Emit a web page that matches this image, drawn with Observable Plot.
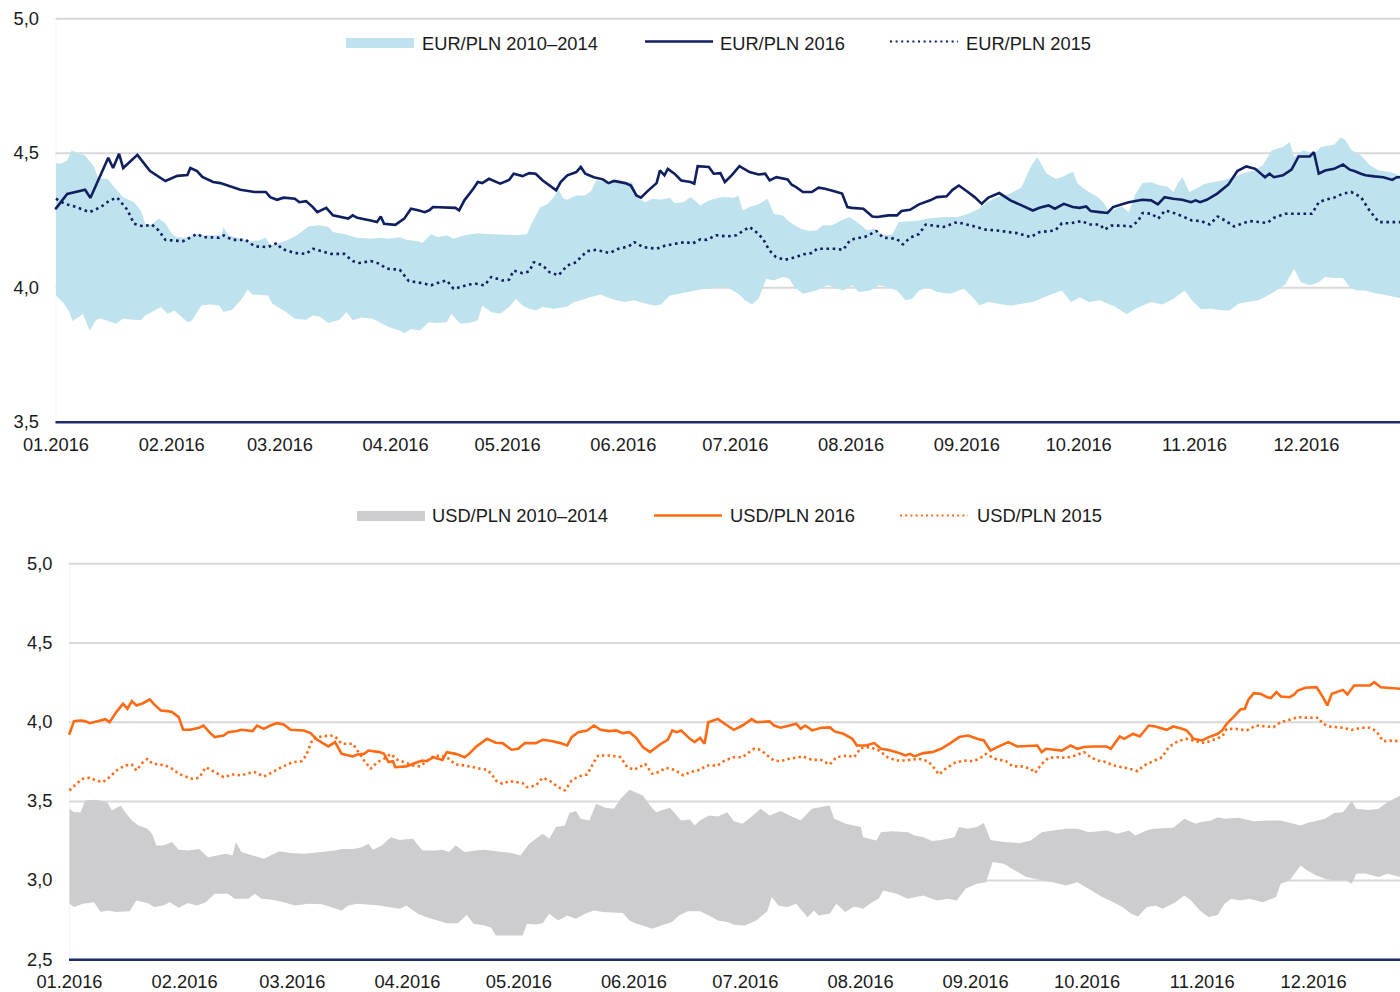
<!DOCTYPE html>
<html>
<head>
<meta charset="utf-8">
<script src="https://cdn.jsdelivr.net/npm/d3@7"></script>
<script src="https://cdn.jsdelivr.net/npm/@observablehq/plot@0.6"></script>
<style>
  html, body { margin: 0; padding: 0; background: #fff; }
  body { width: 1400px; height: 992px; overflow: hidden; position: relative;
         font-family: "Liberation Sans", Arial, sans-serif; color: #1a1a1a; }
  #top { position: absolute; left: 0; top: 0; }
  #bottom { position: absolute; left: 0; top: 530px; }
  .lg { position: absolute; font-size: 18.3px; line-height: 20px; white-space: nowrap; }
  .sw { position: absolute; }
</style>
</head>
<body>
<div id="top"></div>
<div id="bottom"></div>
<div id="legends"></div>
<script>
// ---------- DATA (day offset from 2016-01-01, value) ----------
const monthTicks = ["2016-01-01","2016-02-01","2016-03-01","2016-04-01","2016-05-01","2016-06-01",
                    "2016-07-01","2016-08-01","2016-09-01","2016-10-01","2016-11-01","2016-12-01"];
const eurTicks = [3.5, 4.0, 4.5, 5.0];
const usdTicks = [2.5, 3.0, 3.5, 4.0, 4.5, 5.0];

const eurLegend = ["EUR/PLN 2010–2014", "EUR/PLN 2016", "EUR/PLN 2015"];
const usdLegend = ["USD/PLN 2010–2014", "USD/PLN 2016", "USD/PLN 2015"];

const eur16 = [[0,4.295],[3,4.349],[7.8,4.364],[9.2,4.334],[14,4.483],[15.3,4.445],[16.9,4.498],[18,4.445],[21.8,4.494],[25.2,4.434],[29.3,4.397],[32.5,4.416],[35.2,4.419],[36,4.445],[37.8,4.434],[39.2,4.412],[42.1,4.393],[44,4.389],[49.4,4.364],[53.2,4.356],[56.2,4.356],[57.4,4.337],[59.2,4.327],[61,4.335],[64,4.331],[65.2,4.318],[67,4.322],[68.8,4.30],[70,4.281],[72.4,4.297],[74.2,4.269],[78.3,4.257],[79.5,4.269],[80.7,4.26],[84.3,4.25],[86,4.244],[87,4.265],[87.9,4.238],[90.9,4.234],[93.3,4.257],[95.1,4.294],[97,4.288],[98.8,4.281],[100,4.288],[101,4.30],[107,4.297],[108,4.288],[109.4,4.325],[111.8,4.368],[113,4.393],[114.2,4.389],[116,4.405],[119,4.387],[121.4,4.401],[122.6,4.424],[125,4.415],[126.8,4.426],[128.5,4.424],[130.4,4.399],[134,4.362],[135.2,4.393],[137,4.418],[139.4,4.43],[140.6,4.449],[141.8,4.424],[144.1,4.411],[146.5,4.403],[148,4.389],[149.5,4.397],[152.5,4.389],[154,4.38],[155.5,4.343],[156.7,4.335],[158.7,4.362],[160.9,4.389],[161.8,4.436],[163,4.418],[163.9,4.442],[165.7,4.424],[167.5,4.399],[170,4.393],[171,4.387],[171.9,4.452],[174.9,4.449],[176.2,4.424],[178,4.426],[179.2,4.393],[181,4.418],[183.1,4.452],[185.8,4.43],[188.2,4.421],[190,4.424],[191.2,4.399],[193,4.411],[196,4.403],[197.1,4.383],[198.3,4.374],[200.1,4.356],[202.5,4.356],[204.3,4.372],[206,4.368],[208.5,4.359],[210.6,4.35],[212,4.30],[213.2,4.297],[216.3,4.294],[218.7,4.265],[220,4.263],[223,4.269],[225.3,4.269],[226.5,4.285],[228.8,4.29],[231.2,4.31],[234.2,4.325],[236,4.337],[238.6,4.34],[240.2,4.364],[241.9,4.38],[244.3,4.356],[246.1,4.337],[248,4.312],[249.8,4.335],[252.7,4.352],[255.7,4.325],[258.7,4.306],[261.7,4.287],[263.5,4.297],[265.9,4.306],[267.6,4.294],[270,4.312],[272.4,4.30],[274.2,4.297],[276,4.302],[277.2,4.285],[279.6,4.281],[281.7,4.278],[283.2,4.30],[285.6,4.31],[287.4,4.318],[291,4.327],[293.4,4.325],[295.2,4.31],[297,4.337],[299.3,4.331],[301.7,4.327],[304.1,4.318],[305.3,4.325],[306.5,4.318],[308.3,4.327],[311.1,4.35],[314.1,4.384],[316.5,4.434],[318.9,4.451],[321.3,4.442],[323.9,4.411],[325.1,4.424],[326.3,4.411],[328.7,4.418],[331,4.439],[332.9,4.488],[335.9,4.488],[337,4.504],[338.3,4.424],[340,4.436],[342.4,4.442],[344.8,4.458],[346.6,4.439],[347.8,4.434],[349.6,4.424],[350.8,4.418],[353.2,4.414],[355.6,4.411],[358,4.401],[359.2,4.411],[360.1,4.411]];

const eur15 = [[0,4.331],[2.4,4.312],[5.4,4.30],[9,4.281],[12,4.30],[14.4,4.325],[16.4,4.335],[19.1,4.29],[20.9,4.238],[23.3,4.228],[25.7,4.235],[27.5,4.213],[29.3,4.178],[34.1,4.173],[35.3,4.182],[37.7,4.20],[39.5,4.188],[43.7,4.186],[44.9,4.195],[47.2,4.178],[50.8,4.178],[53.2,4.154],[56.8,4.151],[59.2,4.166],[60.4,4.145],[64,4.129],[67,4.126],[68.8,4.145],[71.2,4.136],[73.6,4.126],[77.2,4.126],[79.5,4.099],[81.3,4.092],[84.3,4.099],[86.7,4.089],[88.5,4.071],[92.1,4.067],[94.5,4.025],[98.1,4.017],[100.5,4.009],[102.9,4.021],[104.7,4.027],[106.5,3.996],[108.3,4.002],[110.6,4.012],[112.4,4.015],[114.8,4.009],[116.6,4.04],[119.6,4.027],[121.4,4.03],[122.6,4.064],[125,4.054],[126.8,4.061],[128,4.095],[130.4,4.083],[132.2,4.058],[134.6,4.046],[137,4.083],[139.4,4.095],[140.6,4.114],[142.3,4.136],[144.7,4.141],[148.3,4.129],[150.7,4.145],[153.5,4.154],[154.9,4.17],[157.3,4.151],[160.9,4.145],[163.3,4.157],[166.9,4.166],[168.7,4.17],[170.5,4.164],[172.6,4.18],[174.4,4.178],[176.8,4.195],[179.8,4.191],[182.2,4.195],[185.8,4.226],[187.6,4.207],[189.4,4.182],[191.1,4.139],[192.9,4.114],[195.3,4.104],[198.3,4.114],[200.1,4.124],[202.5,4.129],[203.9,4.145],[208.5,4.145],[210.9,4.141],[212.7,4.176],[213.9,4.182],[216.9,4.19],[219.8,4.211],[221.6,4.186],[225.2,4.182],[226.9,4.161],[228.8,4.186],[231.2,4.20],[233,4.235],[237.8,4.226],[241.4,4.244],[246.1,4.228],[249.1,4.216],[252.1,4.213],[255.1,4.207],[257.5,4.203],[261.1,4.188],[263.5,4.207],[267.7,4.213],[269.5,4.24],[271.9,4.24],[274.9,4.248],[276.7,4.235],[279.7,4.235],[280.9,4.216],[282.7,4.231],[285.1,4.231],[288.1,4.228],[289.9,4.248],[291.1,4.278],[293.5,4.275],[295.3,4.257],[297.1,4.287],[298.9,4.281],[301.9,4.265],[304.3,4.25],[306.7,4.248],[309.1,4.235],[311.2,4.265],[313.2,4.25],[315.6,4.228],[319.7,4.248],[324.5,4.241],[326.3,4.26],[329.3,4.275],[334.7,4.275],[336.5,4.275],[338.3,4.318],[340,4.327],[342.4,4.335],[344.8,4.35],[347,4.356],[349.6,4.337],[352,4.285],[354.4,4.244],[360.1,4.244]];

const eurHi = [[0,4.463],[1.2,4.461],[3,4.473],[4.2,4.51],[6,4.50],[7.8,4.492],[9.6,4.461],[10.2,4.449],[11.4,4.405],[13.8,4.405],[15.6,4.374],[17.9,4.337],[20.9,4.318],[22.7,4.287],[23.9,4.238],[25.7,4.235],[27.5,4.257],[29.3,4.24],[31.1,4.20],[32.3,4.188],[35.3,4.186],[37.7,4.20],[40.1,4.195],[44.3,4.195],[44.9,4.226],[46.1,4.195],[48.4,4.186],[52,4.173],[54.4,4.176],[56.2,4.186],[57.4,4.157],[59.8,4.166],[62.2,4.178],[64.6,4.195],[67.6,4.228],[70.6,4.232],[73,4.226],[74.2,4.207],[77.2,4.20],[80.7,4.186],[84.3,4.182],[86.7,4.186],[89.1,4.182],[92.1,4.188],[93.9,4.178],[96.9,4.173],[98.1,4.166],[99.3,4.182],[100.5,4.20],[102.3,4.188],[104.7,4.195],[106.5,4.182],[109.4,4.195],[113,4.203],[115.4,4.20],[119,4.198],[123.8,4.195],[126.2,4.20],[127.4,4.238],[129.8,4.30],[131.6,4.31],[133.4,4.337],[134.6,4.364],[136,4.331],[137,4.327],[139.4,4.343],[141.7,4.343],[143.5,4.362],[144.7,4.40],[147.7,4.393],[151.9,4.393],[154.3,4.393],[156.1,4.331],[157.9,4.318],[159.7,4.331],[162.1,4.327],[164.5,4.335],[165.7,4.315],[168.1,4.318],[169.9,4.337],[171.7,4.318],[172.6,4.306],[175,4.325],[178.6,4.337],[181.6,4.335],[182.8,4.343],[184,4.287],[185.8,4.30],[188.2,4.31],[190.6,4.331],[192.3,4.275],[194.7,4.269],[196.5,4.244],[199.5,4.219],[201.9,4.211],[203.7,4.213],[205.5,4.232],[207.9,4.232],[210.3,4.25],[212.6,4.263],[215,4.24],[217.4,4.213],[219.2,4.219],[221.6,4.195],[224,4.198],[225.8,4.244],[231.2,4.25],[233.6,4.257],[237.8,4.263],[241.4,4.263],[244.4,4.275],[247.3,4.294],[249.1,4.315],[252.2,4.337],[255.7,4.35],[258.7,4.374],[261.1,4.449],[262.9,4.486],[265.3,4.426],[267.7,4.405],[269.5,4.411],[271.3,4.426],[272.5,4.43],[273.7,4.387],[276.1,4.362],[279.1,4.337],[280.9,4.312],[282.1,4.281],[283.9,4.294],[285.6,4.302],[287.4,4.281],[289.2,4.349],[291.1,4.389],[293.4,4.392],[295.8,4.38],[297.6,4.377],[299.4,4.356],[300.6,4.389],[301.8,4.411],[303.6,4.356],[305.4,4.368],[307.8,4.387],[310.2,4.393],[312.6,4.399],[314.9,4.409],[317.9,4.424],[320.9,4.436],[323.3,4.455],[325.7,4.51],[328.7,4.523],[330.5,4.542],[331.7,4.486],[334.1,4.51],[337.1,4.498],[338.9,4.523],[342.5,4.533],[344.2,4.56],[345.4,4.548],[347.2,4.51],[349.6,4.492],[352,4.455],[354.4,4.436],[357.4,4.43],[360.1,4.418]];

const eurLo = [[0,3.971],[1.8,3.947],[3.6,3.91],[4.4,3.876],[6,3.89],[7.2,3.903],[9,3.841],[10.8,3.881],[12,3.885],[15,3.872],[16.1,3.866],[17.9,3.885],[20.9,3.881],[22.7,3.879],[23.9,3.897],[25.7,3.91],[28.1,3.928],[29.9,3.903],[31.7,3.915],[35.3,3.872],[36.5,3.879],[38.9,3.934],[41.3,3.938],[43.7,3.934],[44.9,3.91],[47.2,3.918],[49.6,3.955],[51.4,3.993],[52.6,3.975],[56.8,3.971],[58,3.94],[61.6,3.91],[64,3.885],[67,3.881],[68.8,3.897],[70.6,3.893],[73,3.869],[76,3.881],[77.8,3.91],[79.5,3.879],[81.9,3.889],[84.9,3.885],[86.7,3.872],[89.1,3.854],[92.1,3.841],[93.3,3.831],[95.1,3.847],[97.5,3.841],[99.9,3.872],[101.7,3.869],[104.7,3.872],[105.9,3.903],[108.3,3.866],[110.6,3.869],[113,3.879],[114.2,3.934],[116.6,3.91],[119,3.903],[121.4,3.928],[123.2,3.959],[125,3.934],[126.8,3.922],[128.6,3.916],[130.4,3.928],[133.4,3.922],[137,3.93],[138.8,3.947],[140.6,3.953],[143,3.965],[145.9,3.975],[147.7,3.965],[150.1,3.953],[152.5,3.947],[154.9,3.953],[157.3,3.943],[160.3,3.934],[162.1,3.938],[164.5,3.971],[166.9,3.978],[169.3,3.984],[172.6,3.993],[175,3.996],[177.4,4.002],[179.8,4.002],[182.8,3.978],[184.6,3.953],[186.4,3.938],[188.2,3.959],[190.3,4.033],[192.3,4.027],[194.7,4.04],[196.5,4.033],[197.7,4.005],[200.1,3.978],[203.7,3.99],[206.7,4.009],[208.5,4.002],[210.9,3.99],[213.3,4.009],[215.1,3.984],[218.1,3.99],[220.5,4.009],[222.9,4.002],[225.3,3.99],[227.6,3.953],[229.4,3.959],[231.2,3.99],[233.6,4.002],[236,3.984],[239.6,3.978],[243.2,3.996],[245.6,3.965],[247.4,3.934],[249.8,3.947],[252.2,3.94],[255.7,3.934],[258.7,3.94],[261.7,3.947],[264.7,3.965],[267.1,3.978],[269.5,3.99],[271.9,3.947],[274.3,3.965],[276.7,3.947],[279.7,3.953],[283.9,3.928],[286.8,3.901],[289.2,3.922],[291.1,3.934],[293.4,3.947],[296.4,3.938],[299.4,3.959],[302.4,3.99],[304.3,3.953],[306.7,3.92],[309.6,3.922],[312,3.916],[314.4,3.915],[316.8,3.94],[319.2,3.947],[322.2,3.953],[324.5,3.97],[326.9,3.99],[329.3,4.012],[331.7,4.071],[333.5,4.02],[335.9,4.009],[338.3,4.02],[340,4.04],[342.4,4.036],[344.8,4.036],[346.6,4.002],[348.4,3.99],[350.8,3.99],[353.2,3.98],[356.8,3.971],[360.1,3.962]];

const usd16 = [[0,3.927],[1.2,4.007],[3,4.011],[4.2,4.007],[5.4,3.994],[7.8,4.007],[9.6,4.019],[10.8,4.0],[12.6,4.064],[14.4,4.116],[15.6,4.085],[16.8,4.133],[18,4.106],[19.8,4.12],[21.6,4.144],[22.8,4.112],[24.6,4.074],[26.4,4.07],[27.6,4.064],[29.4,4.032],[30.6,3.952],[32.5,3.952],[34.9,3.965],[36.1,3.979],[37.9,3.931],[39.1,3.906],[41.5,3.916],[42.7,3.937],[45.1,3.944],[46.3,3.952],[49.3,3.944],[50.5,3.979],[52.3,3.958],[54.1,3.979],[55.9,3.994],[57.7,3.986],[59.5,3.952],[63.1,3.948],[64.9,3.931],[66.7,3.889],[69.7,3.847],[71.5,3.874],[73.3,3.80],[76.3,3.784],[77.5,3.796],[79.3,3.80],[80.5,3.821],[83.5,3.811],[84.7,3.80],[85.9,3.748],[87.1,3.754],[87.7,3.716],[90.7,3.721],[93.1,3.742],[95,3.758],[96.2,3.754],[98,3.779],[100.4,3.762],[101.6,3.811],[104,3.80],[106.4,3.779],[107.6,3.80],[109.4,3.843],[112.4,3.895],[114.8,3.87],[116.6,3.868],[119,3.826],[120.8,3.832],[122.6,3.868],[125.6,3.868],[127.4,3.889],[129.8,3.881],[132.2,3.868],[134,3.853],[135.2,3.906],[137,3.937],[139.4,3.948],[141.2,3.979],[143,3.952],[145.4,3.944],[147.2,3.948],[149,3.931],[150.8,3.937],[152.6,3.901],[154.4,3.843],[156.3,3.811],[157.5,3.832],[159.3,3.864],[161.1,3.889],[162.3,3.948],[163.5,3.937],[164.7,3.948],[167.1,3.895],[168.3,3.874],[169.8,3.901],[171,3.864],[172,4.0],[174.6,4.021],[176.4,3.99],[178.9,3.952],[181.2,3.979],[183.7,4.019],[184.9,4.0],[188.5,4.005],[189.7,3.979],[191.5,3.965],[193.9,3.979],[195.7,3.99],[196.9,3.958],[198.1,3.979],[200,3.948],[202.4,3.965],[204.8,3.967],[206,3.942],[208.4,3.927],[210.8,3.895],[212,3.853],[214.4,3.853],[216.7,3.868],[218.5,3.832],[220.3,3.826],[222.7,3.811],[225.1,3.79],[226.3,3.80],[227.5,3.784],[229.9,3.805],[232.3,3.811],[234.7,3.832],[237.2,3.868],[239.6,3.906],[242,3.916],[244.4,3.895],[246.2,3.885],[248,3.821],[249.8,3.843],[252.8,3.874],[255.2,3.847],[260.6,3.853],[261.8,3.811],[263,3.832],[267.2,3.821],[269.6,3.853],[271.4,3.832],[273.2,3.843],[275.6,3.847],[279.2,3.847],[280.4,3.832],[282.8,3.91],[284,3.895],[286.4,3.927],[288.2,3.91],[290.6,3.979],[292.4,3.973],[295.4,3.952],[297.2,3.973],[299.6,3.958],[300.8,3.948],[302,3.916],[302.6,3.895],[305,3.885],[306.8,3.906],[309.2,3.927],[310.4,3.948],[311.6,3.99],[313.4,4.032],[315.3,4.08],[316.5,4.085],[317.4,4.141],[318.9,4.183],[320.7,4.179],[322.5,4.158],[323.5,4.153],[325,4.19],[326.2,4.162],[328.6,4.158],[329.8,4.175],[330.7,4.20],[332.8,4.217],[335.8,4.221],[337.5,4.158],[338.7,4.106],[339.9,4.179],[342.9,4.204],[344.1,4.175],[345.9,4.232],[350.1,4.232],[351.3,4.253],[353.1,4.221],[358.3,4.211]];

const usd15 = [[0,3.569],[1.8,3.611],[3.6,3.643],[5.4,3.649],[7.2,3.632],[9,3.622],[10.8,3.653],[12.6,3.695],[15,3.727],[16.8,3.733],[18,3.695],[19.8,3.748],[21,3.769],[22.2,3.741],[24,3.733],[25.8,3.727],[27.6,3.706],[29.4,3.674],[31.3,3.657],[33.1,3.643],[34.9,3.649],[36.7,3.716],[39.1,3.685],[41.5,3.653],[43.9,3.67],[46.3,3.664],[48.1,3.678],[49.9,3.685],[52.3,3.657],[54.7,3.685],[57.1,3.716],[60.1,3.748],[62.5,3.754],[63.7,3.79],[65.5,3.895],[67.9,3.91],[70.3,3.916],[71.5,3.91],[73.3,3.864],[76.3,3.864],[77.5,3.822],[79.3,3.758],[81.1,3.706],[82.9,3.748],[84.7,3.769],[86.5,3.80],[88.3,3.762],[90.1,3.748],[92.5,3.727],[94.4,3.721],[96.2,3.754],[98,3.784],[99.8,3.79],[101.6,3.779],[104,3.733],[106.4,3.727],[108.8,3.716],[110.6,3.706],[112.4,3.70],[113.6,3.674],[114.8,3.632],[116.6,3.611],[118.4,3.628],[120.2,3.622],[122,3.615],[123.2,3.59],[125.6,3.60],[127.4,3.649],[129.2,3.632],[131.6,3.59],[133.4,3.569],[135.2,3.632],[137,3.657],[139.4,3.67],[141.2,3.748],[142.4,3.79],[145.4,3.79],[148.4,3.779],[150.2,3.716],[152,3.70],[153.8,3.721],[155,3.737],[156.9,3.674],[158.7,3.685],[160.5,3.712],[162.9,3.70],[165.3,3.664],[167.1,3.685],[169.8,3.70],[171.6,3.727],[174.6,3.727],[176.4,3.758],[178.8,3.779],[181.2,3.779],[182.4,3.80],[184.3,3.832],[186.1,3.826],[187.9,3.79],[189.7,3.758],[191.5,3.754],[193.9,3.769],[197.5,3.784],[199.9,3.762],[202.3,3.762],[204.7,3.733],[206.5,3.779],[209.5,3.79],[211.3,3.779],[213.1,3.838],[215.5,3.843],[217.9,3.822],[220.3,3.779],[222.7,3.758],[225.1,3.758],[228.7,3.769],[231.1,3.754],[232.3,3.727],[234.1,3.67],[235.9,3.706],[238.3,3.743],[240.7,3.758],[243.2,3.754],[245,3.769],[246.8,3.80],[249.2,3.769],[252.2,3.754],[254,3.721],[256.4,3.721],[258.8,3.706],[260,3.68],[261.8,3.737],[263.6,3.775],[266,3.779],[268.4,3.775],[270.8,3.79],[273.2,3.811],[275,3.779],[276.8,3.758],[279.2,3.748],[281,3.727],[283.4,3.716],[286.4,3.70],[287.6,3.691],[289.4,3.727],[291.8,3.754],[294.2,3.779],[296,3.843],[298.4,3.88],[300.8,3.895],[303.2,3.88],[305.6,3.868],[308,3.889],[310.4,3.91],[311.6,3.958],[314,3.958],[317,3.948],[319.4,3.979],[322.4,3.973],[324.2,3.969],[326.1,4.0],[328.5,4.015],[330.9,4.032],[333.3,4.028],[336.3,4.028],[337.5,3.99],[339.3,3.973],[342.9,3.965],[345.3,3.952],[347.7,3.965],[350.1,3.965],[351.9,3.944],[353.7,3.88],[355.5,3.884],[358.3,3.88]];

const usdHi = [[0,3.453],[1.2,3.432],[3,3.432],[4.2,3.506],[7.2,3.51],[10.2,3.495],[11.4,3.443],[13.8,3.474],[15,3.432],[16.8,3.38],[18.6,3.348],[21,3.327],[22.2,3.295],[23.4,3.222],[25.2,3.222],[27.6,3.243],[29.4,3.194],[31.9,3.19],[34.9,3.20],[37.3,3.148],[39.7,3.159],[42.1,3.169],[43.9,3.159],[44.8,3.243],[46.3,3.18],[49.3,3.159],[52.3,3.138],[54.1,3.159],[56.5,3.186],[59.5,3.174],[63.1,3.169],[67.9,3.18],[71.5,3.19],[73.3,3.20],[76.3,3.20],[78.7,3.211],[80.5,3.232],[81.7,3.194],[84.1,3.222],[86.5,3.274],[88.9,3.257],[92.5,3.264],[95,3.19],[98.6,3.19],[100.4,3.194],[102.2,3.18],[104,3.222],[106.4,3.18],[109.4,3.19],[111.8,3.194],[114.8,3.186],[119,3.174],[121.4,3.159],[123.8,3.232],[127.4,3.295],[129.2,3.264],[131,3.338],[133.4,3.348],[134.6,3.426],[136.4,3.439],[137.6,3.39],[140,3.38],[141.8,3.485],[144.2,3.46],[146.6,3.453],[148.4,3.516],[150.8,3.573],[154.4,3.537],[156.3,3.474],[158,3.432],[159.3,3.443],[161.7,3.46],[164.7,3.38],[167.1,3.385],[168.3,3.348],[169.8,3.38],[172.2,3.411],[174.6,3.404],[177.1,3.432],[178.9,3.375],[181.2,3.359],[183,3.39],[186.1,3.453],[188.5,3.411],[191.5,3.439],[193.9,3.411],[196.9,3.38],[199.9,3.453],[204.7,3.474],[205.9,3.39],[209,3.359],[213.1,3.338],[213.7,3.274],[217.3,3.253],[218.5,3.306],[221.5,3.312],[225.7,3.306],[227.5,3.285],[229.9,3.274],[232.3,3.25],[234.7,3.257],[238.3,3.274],[239.5,3.338],[241.9,3.327],[244.3,3.338],[246.2,3.363],[248,3.257],[251.6,3.243],[255.8,3.236],[258.8,3.253],[261.8,3.306],[264.8,3.316],[268.4,3.327],[271.4,3.327],[274.4,3.306],[279.2,3.316],[282.2,3.295],[285.2,3.316],[287,3.285],[290,3.316],[291.8,3.327],[297.2,3.333],[300.2,3.39],[303.2,3.359],[304.4,3.369],[307.4,3.38],[309.2,3.40],[311,3.39],[314.7,3.396],[318.9,3.375],[322.5,3.38],[326.1,3.38],[331.5,3.348],[333.3,3.363],[338.1,3.39],[340.5,3.426],[342.9,3.432],[345.3,3.502],[346.5,3.453],[350.1,3.446],[352.5,3.453],[354.9,3.495],[358.4,3.537]];

const usdLo = [[0,2.854],[1.2,2.833],[3.6,2.854],[6.6,2.864],[8.4,2.801],[10.2,2.812],[12.6,2.801],[16.2,2.806],[18,2.875],[21,2.858],[22.8,2.833],[25.2,2.843],[27,2.864],[29.4,2.829],[31.9,2.858],[34.3,2.843],[36.7,2.864],[39.1,2.917],[42.7,2.917],[44.5,2.885],[48.1,2.885],[49.9,2.917],[51.7,2.885],[54.7,2.879],[57.7,2.864],[60.7,2.843],[64.3,2.854],[67.9,2.85],[70.3,2.833],[73.3,2.812],[75.1,2.843],[77.5,2.854],[83.5,2.843],[85.9,2.833],[88.9,2.822],[90.7,2.843],[93.8,2.79],[96.2,2.769],[98.6,2.752],[101.6,2.731],[104.6,2.731],[107,2.785],[108.8,2.727],[111.8,2.717],[113.6,2.702],[114.8,2.654],[122,2.654],[123.2,2.727],[125.6,2.723],[127.4,2.731],[129.2,2.79],[131.6,2.748],[134,2.779],[136.4,2.759],[138.8,2.79],[141.2,2.812],[143.6,2.801],[149,2.796],[150.8,2.748],[152.6,2.727],[154.4,2.717],[156.9,2.696],[159.3,2.717],[162.3,2.738],[164.1,2.779],[166.5,2.807],[169.8,2.807],[172.2,2.779],[174.6,2.748],[177.1,2.738],[178.9,2.721],[181.9,2.717],[184.9,2.748],[187.9,2.807],[189.1,2.896],[190.9,2.843],[193.3,2.833],[195.7,2.854],[198.7,2.769],[200.5,2.812],[201.7,2.779],[204.7,2.79],[206.5,2.854],[208.9,2.801],[211.3,2.837],[213.7,2.822],[216.1,2.864],[217.9,2.885],[219.1,2.938],[222.7,2.917],[225.7,2.885],[229.9,2.906],[233.5,2.875],[236.5,2.885],[238.9,2.875],[241.3,2.948],[244.3,2.98],[246.8,2.99],[248.6,3.117],[251.6,3.106],[254.6,3.064],[257.6,3.022],[261.2,3.005],[264.8,2.99],[268.4,2.969],[271.4,2.99],[274.4,2.948],[278.1,2.896],[281.1,2.864],[283.5,2.833],[285.9,2.79],[287.7,2.774],[290.1,2.833],[292.5,2.843],[294.3,2.822],[296.1,2.843],[297.8,2.864],[300.2,2.906],[302,2.875],[304.4,2.812],[306.8,2.769],[309.2,2.785],[311,2.854],[312.8,2.885],[315.3,2.875],[317.7,2.885],[321.3,2.864],[324.9,2.896],[326.1,2.98],[328.5,3.001],[331.5,3.096],[333.3,3.064],[335.7,3.032],[338.1,3.011],[340.5,3.001],[343.5,3.006],[345.3,2.98],[346.5,3.043],[348.9,3.045],[352.5,3.022],[354.9,3.043],[358.4,3.022]];

// ---------- STYLE ----------
const C = {
  navy: "#0f1f5f", axis: "#1c2b6a", lightBlue: "#bee3ee", grey: "#cdcdd0",
  orange: "#ff6a13", grid: "#d9d9d9", text: "#1a1a1a"
};
const FONT = '"Liberation Sans", Arial, sans-serif';
const T0 = Date.UTC(2016, 0, 1);
const toDate = d => new Date(T0 + d * 864e5);
const rows = a => a.map(([d, v]) => ({date: toDate(d), v}));
const polygon = (hi, lo) => rows([...hi, ...lo.slice().reverse()]);
const yFmt = v => v.toFixed(1).replace(".", ",");
const xFmt = d3.utcFormat("%m.%Y");
const ticksX = monthTicks.map(s => new Date(s + "T00:00:00Z"));

function panel(o) {
  const yt = o.yTicks;
  return Plot.plot({
    width: 1400, height: o.height,
    marginLeft: o.marginLeft, marginRight: 0, marginTop: o.marginTop, marginBottom: o.marginBottom,
    style: {fontFamily: FONT, fontSize: "18.3px", color: C.text, background: "white", overflow: "visible"},
    x: {type: "utc", domain: [toDate(0), toDate(o.end)]},
    y: {domain: [yt[0], yt[yt.length - 1]]},
    marks: [
      Plot.ruleX([toDate(0)], {stroke: "#f5f5f5", strokeWidth: 1}),
      Plot.ruleY(yt.slice(1), {stroke: C.grid, strokeWidth: 2}),
      Plot.line(polygon(o.hi, o.lo), {x: "date", y: "v", fill: o.bandColor, stroke: "none"}),
      Plot.line(rows(o.dotted), {x: "date", y: "v", stroke: o.lineColor, strokeWidth: 2.6,
        strokeDasharray: o.dash, strokeLinecap: "butt", strokeLinejoin: "miter"}),
      Plot.line(rows(o.solid), {x: "date", y: "v", stroke: o.lineColor, strokeWidth: 2.6,
        strokeLinejoin: "miter", strokeMiterlimit: 2}),
      Plot.ruleY([yt[0]], {stroke: C.axis, strokeWidth: 2.5}),
      Plot.axisX(ticksX, {tickFormat: xFmt, tickSize: 0, tickPadding: o.xPad, label: null}),
      Plot.axisY(yt, {tickFormat: yFmt, tickSize: 0, tickPadding: 17, label: null})
    ]
  });
}

document.getElementById("top").append(panel({
  height: 470, marginLeft: 55.5, marginTop: 18.3, marginBottom: 48.3, end: 360.2, xPad: 16,
  yTicks: eurTicks, hi: eurHi, lo: eurLo, solid: eur16, dotted: eur15,
  bandColor: C.lightBlue, lineColor: C.navy, dash: "2.6 3.6"
}));
document.getElementById("bottom").append(panel({
  height: 462, marginLeft: 69, marginTop: 33.3, marginBottom: 32.7, end: 358.4, xPad: 15,
  yTicks: usdTicks, hi: usdHi, lo: usdLo, solid: usd16, dotted: usd15,
  bandColor: C.grey, lineColor: C.orange, dash: "2.4 3.2"
}));

// ---------- LEGENDS ----------
function legend(labels, cfg) {
  const root = document.getElementById("legends");
  const kinds = ["rect", "solid", "dotted"];
  labels.forEach((label, i) => {
    const sx = cfg.swatchX[i];
    const sw = document.createElementNS("http://www.w3.org/2000/svg", "svg");
    sw.setAttribute("class", "sw");
    sw.setAttribute("width", 68); sw.setAttribute("height", 14);
    sw.style.left = sx + "px"; sw.style.top = (cfg.cy - 7) + "px";
    if (kinds[i] === "rect") {
      sw.innerHTML = `<rect x="0" y="2" width="68" height="10" fill="${cfg.band}"/>`;
    } else if (kinds[i] === "solid") {
      sw.innerHTML = `<line x1="0" x2="68" y1="${cfg.lineY}" y2="${cfg.lineY}" stroke="${cfg.color}" stroke-width="2.4"/>`;
    } else {
      sw.innerHTML = `<line x1="0" x2="68" y1="${cfg.lineY}" y2="${cfg.lineY}" stroke="${cfg.color}" stroke-width="2.2" stroke-dasharray="${cfg.dash}"/>`;
    }
    root.append(sw);
    const t = document.createElement("div");
    t.className = "lg";
    t.textContent = label;
    t.style.left = cfg.textX[i] + "px";
    t.style.top = cfg.textTop + "px";
    root.append(t);
  });
}
legend(eurLegend, {swatchX: [346, 645, 890], textX: [422, 720, 966], cy: 43, lineY: 5.5, textTop: 33.7,
  band: C.lightBlue, color: C.navy, dash: "2 3.6"});
legend(usdLegend, {swatchX: [357, 654, 900], textX: [432, 730, 977], cy: 516, lineY: 6.5, textTop: 506,
  band: C.grey, color: C.orange, dash: "2 3.2"});
</script>
</body>
</html>
